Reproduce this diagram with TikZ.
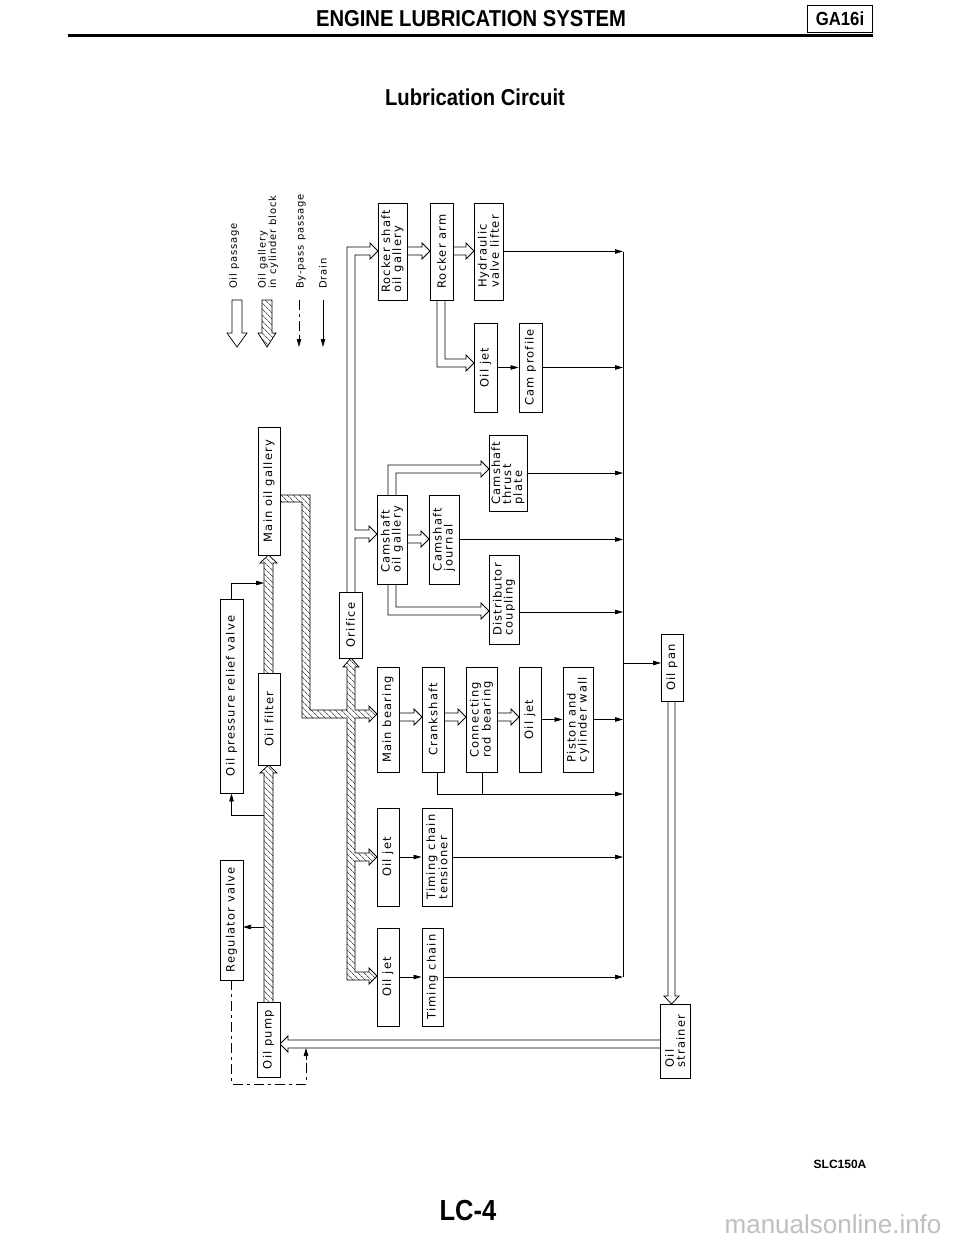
\documentclass[tikz,border=0pt]{standalone}
\usepackage{fontspec}
\setmainfont{DejaVu Sans}
\newfontfamily\plotfont[LetterSpace=10,Ligatures={NoCommon}]{DejaVu Sans}
\newfontfamily\legfont[LetterSpace=8,Ligatures={NoCommon}]{DejaVu Sans}
\newfontfamily\headfont[FakeStretch=0.88]{Liberation Sans}
\newfontfamily\wmfont{Liberation Sans}
\usetikzlibrary{arrows.meta,patterns.meta}
\newcommand\hollowH[3]{%
  \path[passage] (#1,#3-4) -- (#2-8,#3-4) -- (#2-8,#3-8) -- (#2,#3) -- (#2-8,#3+8) -- (#2-8,#3+4) -- (#1,#3+4);}
\tikzset{
  box/.style={draw, line width=0.9pt, fill=white, rotate=90, inner sep=0pt, align=left,
    font=\plotfont\fontsize{11.5}{11}\selectfont},
  flow/.style={line width=0.75pt, -{Triangle[length=8pt,width=4.5pt]}},
  plain/.style={line width=0.75pt},
  passage/.style={draw, line width=0.75pt, fill=white, line join=miter},
  gallery/.style={draw, line width=0.75pt, line join=miter, pattern={Lines[angle=-45,distance=4pt,line width=0.5pt]}},
  bypass/.style={line width=0.75pt, dash pattern=on 10pt off 4pt on 3pt off 4pt},
  legend/.style={rotate=90, anchor=west, align=left, inner sep=0pt,
    font=\legfont\fontsize{10}{10.5}\selectfont},
}
\begin{document}
\begin{tikzpicture}[x=1pt,y=-1pt]
\useasboundingbox[fill=white] (0,0) rectangle (960,1242);

% ---------- header ----------
\node[font=\headfont\bfseries\fontsize{23}{23}\selectfont] (title) at (471,19) {ENGINE LUBRICATION SYSTEM};
\draw[line width=3pt] (68,35) -- (873,35);
\node[draw, line width=1pt, inner sep=0pt, minimum width=65pt, minimum height=27pt,
  font=\headfont\bfseries\fontsize{19}{19}\selectfont] (ga) at (840,19) {GA16i};
\node[font=\headfont\bfseries\fontsize{23}{23}\selectfont] (sub) at (475,97) {Lubrication Circuit};
\node[font=\headfont\bfseries\fontsize{29}{29}\selectfont] (lc) at (468,1211) {LC-4};
\node[font=\wmfont\bfseries\fontsize{12}{12}\selectfont] (slc) at (840,1164) {SLC150A};
\node[anchor=base east, text=black!25, font=\wmfont\fontsize{26}{26}\selectfont] (wm) at (945,1233) {manualsonline.info};

% ---------- legend ----------
\path[passage] (232,300) -- (232,333) -- (227,333) -- (237,347) -- (247,333) -- (242,333) -- (242,300) -- cycle;
\path[gallery] (262,300) -- (262,333) -- (258,333) -- (267,347) -- (276,333) -- (272,333) -- (272,300) -- cycle;
\draw[bypass] (299,300) -- (299,340);
\draw[flow] (299,338) -- (299,347);
\draw[flow] (323,300) -- (323,347);
\node[legend] (lg1) at (234,289) {Oil passage};
\node[legend] (lg2) at (268,289) {Oil gallery\\in cylinder block};
\node[legend] (lg3) at (301,289) {By-pass passage};
\node[legend] (lg4) at (323,289) {Drain};

% ---------- hatched galleries ----------
\path[gallery] (264,1002) -- (264,773) -- (260,773) -- (268.5,765) -- (277,773) -- (273,773) -- (273,1002);
\path[gallery] (264,673) -- (264,563) -- (260,563) -- (268.5,555) -- (277,563) -- (273,563) -- (273,673);
\path[gallery] (280,495) -- (310,495) -- (310,710) -- (347,710) -- (347,667) -- (343,667) -- (351,658)
  -- (359,667) -- (355,667) -- (355,710) -- (369,710) -- (369,706) -- (377,714) -- (369,722) -- (369,718)
  -- (355,718) -- (355,853) -- (369,853) -- (369,849) -- (377,857) -- (369,865) -- (369,861) -- (355,861)
  -- (355,972) -- (369,972) -- (369,968) -- (377,976) -- (369,984) -- (369,980) -- (347,980)
  -- (347,718) -- (302,718) -- (302,502) -- (280,502) -- cycle;

% ---------- oil passages (hollow) ----------
\path[passage] (347,592) -- (347,247) -- (370,247) -- (370,243) -- (378,251) -- (370,259) -- (370,255)
  -- (355,255) -- (355,530) -- (369,530) -- (369,526) -- (377,534) -- (369,542) -- (369,538) -- (355,538) -- (355,592);
\hollowH{407}{430}{251}
\hollowH{453}{474}{251}
\path[passage] (437,300) -- (437,367) -- (466,367) -- (466,371) -- (474,363) -- (466,355) -- (466,359) -- (445,359) -- (445,300);
\hollowH{407}{429}{539}
\path[passage] (388,495) -- (388,465) -- (481,465) -- (481,461) -- (489,469) -- (481,477) -- (481,473) -- (396,473) -- (396,495);
\path[passage] (388,584) -- (388,615) -- (481,615) -- (481,619) -- (489,611) -- (481,603) -- (481,607) -- (396,607) -- (396,584);
\hollowH{399}{422}{717}
\hollowH{444}{466}{717}
\hollowH{497}{519}{717}
\path[passage] (668,701) -- (668,996) -- (664,996) -- (671.5,1004) -- (679,996) -- (675,996) -- (675,701);
\path[passage] (660,1040) -- (288,1040) -- (288,1036) -- (280,1044) -- (288,1052) -- (288,1048) -- (660,1048);

% ---------- boxes ----------
\node[box, minimum width=120pt, minimum height=23pt] (reg)  at (231.5,920)   {Regulator valve};
\node[box, minimum width=194pt, minimum height=23pt] (oprv) at (231.5,696)   {Oil pressure relief valve};
\node[box, minimum width=75pt,  minimum height=23pt] (pump) at (268.5,1039.5){Oil pump};
\node[box, minimum width=92pt,  minimum height=22pt] (filt) at (269,719)     {Oil filter};
\node[box, minimum width=128pt, minimum height=22pt] (mog)  at (269,491)     {Main oil gallery};
\node[box, minimum width=66pt,  minimum height=23pt] (orf)  at (350.5,625)   {Orifice};
\node[box, minimum width=97pt,  minimum height=29pt] (rsog) at (392.5,251.5) {Rocker shaft\\oil gallery};
\node[box, minimum width=97pt,  minimum height=23pt] (ra)   at (441.5,251.5) {Rocker arm};
\node[box, minimum width=97pt,  minimum height=29pt] (hvl)  at (488.5,251.5) {Hydraulic\\valve lifter};
\node[box, minimum width=89pt,  minimum height=23pt] (oj1)  at (485.5,367.5) {Oil jet};
\node[box, minimum width=89pt,  minimum height=23pt] (cp)   at (530.5,367.5) {Cam profile};
\node[box, minimum width=76pt,  minimum height=38pt] (ctp)  at (508,473)     {Camshaft\\thrust\\plate};
\node[box, minimum width=89pt,  minimum height=30pt] (cog)  at (392,539.5)   {Camshaft\\oil gallery};
\node[box, minimum width=89pt,  minimum height=30pt] (cj)   at (444,539.5)   {Camshaft\\journal};
\node[box, minimum width=89pt,  minimum height=30pt] (dc)   at (504,599.5)   {Distributor\\coupling};
\node[box, minimum width=105pt, minimum height=22pt] (mb)   at (388,719.5)   {Main bearing};
\node[box, minimum width=105pt, minimum height=22pt] (cs)   at (433,719.5)   {Crankshaft};
\node[box, minimum width=105pt, minimum height=31pt] (crb)  at (481.5,719.5) {Connecting\\rod bearing};
\node[box, minimum width=105pt, minimum height=22pt] (oj2)  at (530,719.5)   {Oil jet};
\node[box, minimum width=105pt, minimum height=30pt] (pcw)  at (578,719.5)   {Piston and\\cylinder wall};
\node[box, minimum width=67pt,  minimum height=22pt] (pan)  at (672,667.5)   {Oil pan};
\node[box, minimum width=98pt,  minimum height=22pt] (oj3)  at (388,857)     {Oil jet};
\node[box, minimum width=98pt,  minimum height=30pt] (tct)  at (437,857)     {Timing chain\\tensioner};
\node[box, minimum width=98pt,  minimum height=22pt] (oj4)  at (388,977)     {Oil jet};
\node[box, minimum width=98pt,  minimum height=21pt] (tc)   at (432.5,977)   {Timing chain};
\node[box, minimum width=74pt,  minimum height=30pt] (str)  at (675,1041)    {Oil\\strainer};

% ---------- pressure control ----------
\draw[flow] (264,815) -| (oprv.west);
\draw[flow] (oprv.east) |- (264,583);
\draw[flow] (264,927) -- (243,927);
\draw[bypass] (reg.west) -- (231.5,1084) -- (306,1084) -- (306,1058);
\draw[flow] (306,1060) -- (306,1048);

% ---------- drains ----------
\coordinate (dr) at (623,0);
\draw[flow] (oj1.south) -- (cp.north);
\draw[flow] (oj2.south) -- (pcw.north);
\draw[flow] (oj3.south) -- (tct.north);
\draw[flow] (oj4.south) -- (tc.north);
\draw[plain] (hvl.south -| dr) -- (tc.south -| dr);
\draw[flow] (hvl.south) -- (hvl.south -| dr);
\draw[flow] (cp.south) -- (cp.south -| dr);
\draw[flow] (ctp.south) -- (ctp.south -| dr);
\draw[flow] (cj.south) -- (cj.south -| dr);
\draw[flow] (519,612) -- (623,612);
\draw[flow] (pcw.south) -- (pcw.south -| dr);
\draw[flow] (437,772) -- (437,794) -- (623,794);
\draw[plain] (482,772) -- (482,794);
\draw[flow] (tct.south) -- (tct.south -| dr);
\draw[flow] (tc.south) -- (tc.south -| dr);
\draw[flow] (623,663) -- (661,663);
\end{tikzpicture}
\end{document}
